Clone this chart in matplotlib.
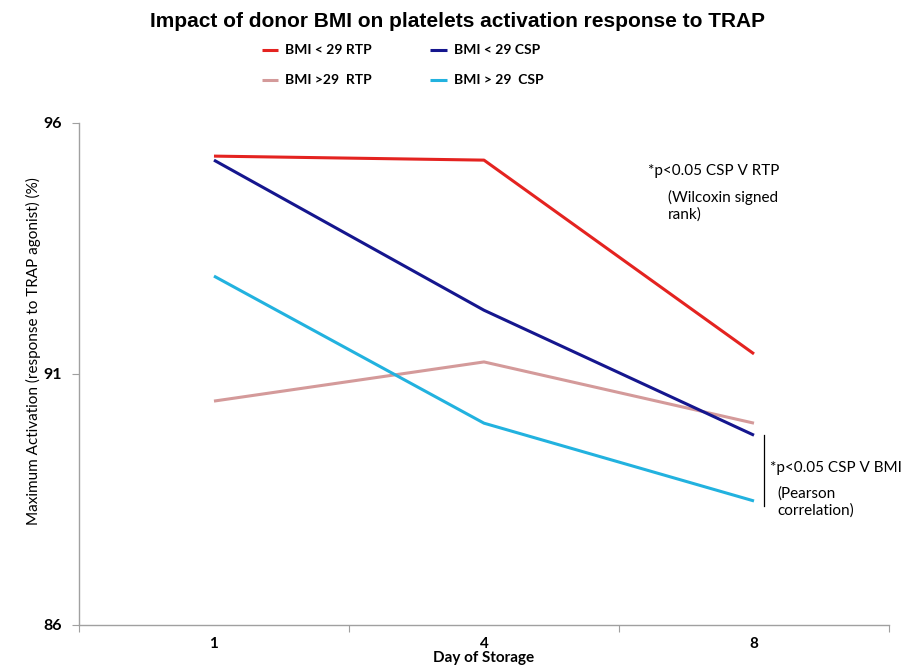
import matplotlib
matplotlib.use("Agg")
import matplotlib.pyplot as plt
from matplotlib.ticker import FixedLocator, NullFormatter

# data
days = ["1", "4", "8"]
bmi_low_rtp = [95.34, 95.26, 91.40]
bmi_high_rtp = [90.46, 91.24, 90.02]
bmi_low_csp = [95.26, 92.27, 89.78]
bmi_high_csp = [92.95, 90.02, 88.47]

labels = ["BMI < 29 RTP", "BMI >29  RTP", "BMI < 29 CSP", "BMI > 29  CSP"]
colors = ["#E42320", "#D49A9A", "#15168E", "#22B2DF"]
series = [bmi_low_rtp, bmi_high_rtp, bmi_low_csp, bmi_high_csp]

txt_font = "Lato"

fig = plt.figure(figsize=(9.15, 6.68), dpi=100)
ax = fig.add_axes([0.0863, 0.0644, 0.8853, 0.7515])

x = list(range(len(days)))
handles = []
for vals, col, lab in zip(series, colors, labels):
    h, = ax.plot(x, vals, color=col, lw=2.2, label=lab, solid_capstyle="butt")
    handles.append(h)

ax.set_xlim(-0.5, 2.5)
ax.set_ylim(86, 96)
ax.set_yticks([86, 91, 96])
ax.set_yticklabels(["86", "91", "96"], fontweight="bold", fontsize=11.5, family=txt_font)

ax.xaxis.set_major_locator(FixedLocator([-0.5, 0.5, 1.5, 2.5]))
ax.xaxis.set_major_formatter(NullFormatter())
ax.xaxis.set_minor_locator(FixedLocator(x))
ax.set_xticklabels(days, minor=True, fontweight="bold", fontsize=11, family=txt_font)
ax.tick_params(axis="x", which="minor", length=0, pad=9)
ax.tick_params(axis="x", which="major", length=5, color="#A0A0A0")
ax.tick_params(axis="y", length=5, color="#A0A0A0", pad=7)

for s in ["top", "right"]:
    ax.spines[s].set_visible(False)
for s in ["left", "bottom"]:
    ax.spines[s].set_color("#A0A0A0")
    ax.spines[s].set_linewidth(1.0)

ax.set_xlabel("Day of Storage", fontweight="bold", fontsize=11, family=txt_font, labelpad=0)
ax.set_ylabel("Maximum Activation (response to TRAP agonist) (%)", fontsize=11,
              family=txt_font)
ax.yaxis.set_label_coords(-0.047, 0.546)

fig.text(0.5, 0.968, "Impact of donor BMI on platelets activation response to TRAP",
         ha="center", va="center", fontsize=15, fontweight="bold",
         family=["Liberation Sans Narrow", "Liberation Sans"])

leg = fig.legend(handles=handles, loc="center", bbox_to_anchor=(0.44, 0.902), ncol=2,
                 frameon=False, handlelength=1.2, handletextpad=0.5, columnspacing=4.2,
                 labelspacing=1.3, prop={"family": txt_font, "weight": "bold", "size": 10})

# annotations
def px_text(xp, yp, s):
    fig.text(xp / 915, 1 - yp / 668, s, fontsize=11, family=txt_font, va="center",
             linespacing=1.25)

px_text(648, 171, "*p<0.05 CSP V RTP")
px_text(668, 206, "(Wilcoxin signed\nrank)")
px_text(770, 468, "*p<0.05 CSP V BMI")
px_text(777, 502, "(Pearson\ncorrelation)")
fig.add_artist(plt.Line2D([764 / 915, 764 / 915], [1 - 435 / 668, 1 - 506 / 668],
                          color="black", lw=0.9))

fig.savefig("out.png", dpi=100)
